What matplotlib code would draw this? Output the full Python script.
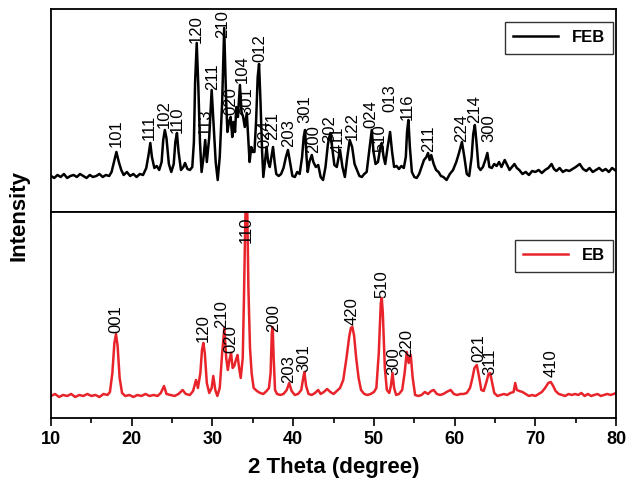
import numpy as np
import matplotlib
matplotlib.use("Agg")
import matplotlib.pyplot as plt
from matplotlib.ticker import MultipleLocator

plt.rcParams['font.family'] = ['Liberation Sans', 'DejaVu Sans']

# ---------- DATA (intensity in arbitrary units) ----------
feb_theta = [10.0, 10.4, 10.8, 11.2, 11.6, 12.0, 12.4, 12.8, 13.2, 13.6, 14.0, 14.4, 14.8, 15.2, 15.6, 16.0,
             16.4, 16.8, 17.2, 17.5, 17.8, 18.1, 18.4, 18.7, 19.0, 19.4, 19.8, 20.2, 20.6, 21.0, 21.4, 21.8,
             22.1, 22.3, 22.5, 22.8, 23.1, 23.4, 23.7, 23.9, 24.1, 24.3, 24.6, 24.9, 25.2, 25.4, 25.6, 25.8,
             26.1, 26.4, 26.6, 26.9, 27.2, 27.5, 27.7, 27.85, 28.05, 28.25, 28.45, 28.65, 28.9, 29.1, 29.3,
             29.6, 29.9, 30.15, 30.4, 30.65, 30.9, 31.2, 31.45, 31.7, 31.85, 32.05, 32.25, 32.45, 32.6, 32.8,
             32.95, 33.15, 33.4, 33.6, 33.8, 34.0, 34.25, 34.45, 34.6, 34.8, 35.0, 35.2, 35.4, 35.6, 35.77,
             35.95, 36.15, 36.3, 36.5, 36.7, 36.9, 37.1, 37.3, 37.5, 37.7, 37.9, 38.2, 38.5, 38.8, 39.1, 39.35,
             39.6, 39.9, 40.2, 40.5, 40.8, 41.1, 41.3, 41.47, 41.65, 41.8, 42.0, 42.3, 42.5, 42.8, 43.1, 43.4,
             43.7, 44.0, 44.3, 44.6, 44.9, 45.1, 45.4, 45.8, 46.1, 46.4, 46.7, 47.0, 47.3, 47.6, 47.9, 48.2,
             48.5, 48.8, 49.1, 49.4, 49.73, 49.95, 50.2, 50.5, 50.8, 50.97, 51.2, 51.4, 51.7, 52.0, 52.25,
             52.5, 52.8, 53.1, 53.4, 53.7, 53.95, 54.1, 54.27, 54.45, 54.7, 55.0, 55.3, 55.6, 55.9, 56.2, 56.5,
             56.7, 56.9, 57.1, 57.4, 57.7, 58.0, 58.3, 58.6, 59.0, 59.4, 59.8, 60.2, 60.5, 60.9, 61.2, 61.5,
             61.8, 62.1, 62.3, 62.5, 62.7, 62.95, 63.2, 63.5, 63.8, 64.05, 64.3, 64.6, 64.9, 65.2, 65.5, 65.8,
             66.2, 66.5, 66.8, 67.1, 67.4, 67.7, 68.0, 68.4, 68.8, 69.2, 69.6, 70.0, 70.4, 70.8, 71.2, 71.6,
             72.0, 72.3, 72.6, 73.0, 73.4, 73.8, 74.2, 74.6, 75.0, 75.5, 75.9, 76.3, 76.7, 77.1, 77.5, 77.9,
             78.3, 78.7, 79.1, 79.5, 80.0]
feb_int = [36, 34, 37, 35, 38, 34, 36, 37, 35, 38, 36, 34, 37, 35, 36, 38,
           35, 37, 36, 40, 50, 60, 50, 42, 37, 40, 36, 38, 35, 38, 37, 44,
           58, 69, 55, 44, 46, 42, 50, 72, 82, 74, 48, 40, 48, 70, 79, 60,
           42, 45, 49, 43, 42, 45, 70, 130, 169, 125, 70, 40, 55, 72, 50,
           75, 122, 85, 50, 32, 55, 110, 184, 110, 80, 90, 95, 75, 90, 80,
           105, 95, 127, 100, 95, 85, 99, 70, 50, 65, 60, 60, 90, 135, 148,
           110, 60, 35, 50, 65, 50, 45, 55, 65, 50, 38, 36, 38, 44, 55, 62,
           50, 36, 35, 40, 38, 55, 75, 82, 55, 40, 50, 57, 50, 45, 47, 35,
           32, 45, 68, 79, 60, 47, 45, 62, 45, 35, 55, 72, 65, 48, 42, 36,
           35, 38, 40, 60, 82, 60, 48, 50, 65, 69, 55, 48, 65, 80, 60,
           45, 46, 43, 46, 44, 55, 80, 92, 65, 40, 35, 34, 38, 45, 52, 55,
           59, 52, 57, 48, 42, 40, 36, 35, 32, 38, 42, 50, 58, 70, 55, 38,
           36, 55, 78, 87, 70, 45, 42, 45, 52, 59, 45, 44, 48, 46, 50, 45,
           52, 47, 42, 45, 48, 44, 42, 38, 40, 37, 41, 40, 42, 39, 42, 44,
           48, 43, 41, 44, 40, 42, 41, 43, 45, 48, 43, 41, 44, 40, 42, 44,
           41, 43, 40, 44, 41]

eb_theta = [10.0, 10.5, 11.0, 11.5, 12.0, 12.5, 13.0, 13.5, 14.0, 14.5, 15.0, 15.5, 16.0, 16.5, 17.0, 17.3,
            17.6, 17.85, 18.05, 18.25, 18.5, 18.8, 19.2, 19.7, 20.2, 20.7, 21.2, 21.7, 22.2, 22.7, 23.2, 23.6,
            24.0, 24.3, 24.8, 25.3, 25.8, 26.3, 26.7, 27.2, 27.6, 27.96, 28.2, 28.5, 28.7, 28.87, 29.05, 29.3,
            29.6, 29.9, 30.1, 30.35, 30.6, 30.9, 31.2, 31.47, 31.7, 31.9, 32.1, 32.3, 32.5, 32.7, 32.9, 33.1,
            33.3, 33.5, 33.75, 33.9, 34.05, 34.16, 34.3, 34.45, 34.65, 34.85, 35.1, 35.5, 35.9, 36.3, 36.7,
            37.0, 37.2, 37.35, 37.46, 37.58, 37.75, 38.0, 38.4, 38.8, 39.2, 39.5, 39.8, 40.2, 40.6, 41.0, 41.2,
            41.38, 41.6, 41.9, 42.3, 42.7, 43.1, 43.4, 43.8, 44.2, 44.6, 45.0, 45.4, 45.8, 46.2, 46.6, 46.95,
            47.15, 47.33, 47.55, 47.8, 48.1, 48.4, 48.8, 49.2, 49.6, 50.0, 50.3, 50.6, 50.85, 50.97, 51.1,
            51.35, 51.6, 51.9, 52.1, 52.3, 52.5, 52.75, 53.1, 53.5, 53.8, 54.07, 54.3, 54.56, 54.8, 55.1, 55.5,
            55.9, 56.3, 56.7, 57.1, 57.4, 57.8, 58.2, 58.6, 59.0, 59.5, 59.9, 60.3, 60.7, 61.1, 61.5, 61.9,
            62.2, 62.45, 62.74, 63.0, 63.3, 63.6, 63.9, 64.2, 64.4, 64.65, 64.9, 65.3, 65.7, 66.1, 66.5, 66.9,
            67.3, 67.5, 67.7, 68.0, 68.4, 68.8, 69.2, 69.6, 70.0, 70.4, 70.8, 71.2, 71.6, 71.9, 72.2, 72.5,
            72.9, 73.3, 73.7, 74.1, 74.5, 74.9, 75.3, 75.7, 76.1, 76.5, 76.9, 77.3, 77.7, 78.1, 78.5, 78.9,
            79.3, 79.7, 80.0]
eb_int = [22, 24, 21, 23, 22, 24, 21, 23, 22, 24, 22, 23, 21, 24, 23, 26,
          45, 75, 84, 72, 40, 25, 22, 23, 21, 23, 22, 24, 22, 23, 22, 25,
          32, 24, 23, 22, 24, 28, 24, 23, 27, 38, 30, 45, 68, 75, 65, 35,
          25, 30, 42, 28, 22, 30, 65, 90, 60, 48, 58, 65, 50, 52, 58, 63,
          50, 40, 60, 120, 190, 230, 215, 130, 70, 45, 30, 27, 25, 24, 27,
          30, 45, 85, 91, 60, 28, 24, 23, 24, 28, 35, 27, 23, 24, 28, 38,
          46, 32, 24, 23, 25, 28, 24, 26, 29, 26, 24, 27, 30, 38, 60, 82,
          90, 91, 82, 60, 40, 28, 24, 23, 24, 26, 30, 65, 115, 120, 105,
          50, 28, 25, 32, 45, 30, 23, 24, 28, 45, 66, 55, 63, 40, 23, 22,
          23, 26, 24, 27, 28, 24, 23, 24, 26, 28, 24, 23, 24, 24, 25, 30,
          40, 50, 53, 42, 28, 27, 35, 44, 45, 35, 25, 22, 23, 24, 23, 25,
          26, 35, 28, 27, 26, 24, 22, 23, 22, 24, 26, 30, 35, 36, 32, 27,
          24, 23, 22, 24, 23, 24, 23, 25, 22, 24, 22, 23, 24, 22, 23, 24,
          23, 24, 25]

# peak labels (Miller indices), position and height of label base
feb_labels = ["101", "111", "102", "110", "120", "113", "211", "210", "020", "104", "301", "012", "024", "221",
              "203", "301", "200", "302", "411", "122", "024", "510", "013", "116", "211", "224", "214", "300"]
feb_lab_x = [18.05, 22.18, 24.0, 25.65, 27.96, 29.08, 30.07, 31.31, 32.26, 33.63, 34.25, 35.89, 36.51, 37.47,
             39.4, 41.47, 42.5, 44.48, 45.56, 47.26, 49.61, 50.76, 52.0, 54.07, 56.75, 60.88, 62.45, 64.18]
feb_lab_y = [65, 72, 84, 79, 169, 77, 122, 174, 97, 129, 97, 150, 64, 72,
             65, 89, 59, 69, 59, 72, 84, 60, 100, 92, 60, 70, 89, 70]

eb_labels = ["001", "120", "210", "020", "110", "200", "203", "301", "420", "510", "300", "220", "021", "311", "410"]
eb_lab_x = [18.05, 28.87, 31.15, 32.3, 34.16, 37.54, 39.4, 41.26, 47.26, 50.97, 52.41, 54.07, 62.94, 64.39, 71.91]
eb_lab_y = [85, 76, 90, 65, 175, 86, 35, 46, 93, 120, 43, 61, 56, 43, 41]

# ---------- PLOT ----------
fig = plt.figure(figsize=(6.4, 4.96), dpi=100)
ax_top = fig.add_axes([0.0797, 0.5726, 0.883, 0.4093])
ax_bot = fig.add_axes([0.0797, 0.1573, 0.883, 0.4153])

ax_top.plot(feb_theta, feb_int, color='black', lw=1.8, label='FEB')
ax_bot.plot(eb_theta, eb_int, color='#e8242a', lw=1.8, label='EB')

ax_top.set_ylim(0, 203)
ax_bot.set_ylim(0, 206)

for t, x, y in zip(feb_labels, feb_lab_x, feb_lab_y):
    ax_top.text(x, y, t, rotation=90, ha='center', va='bottom', fontsize=12, clip_on=False)
for t, x, y in zip(eb_labels, eb_lab_x, eb_lab_y):
    ax_bot.text(x, y, t, rotation=90, ha='center', va='bottom', fontsize=12, clip_on=False)

# legend anchors (axes fraction), tucked into the upper right corner
leg_anchor = {ax_top: (1 - 3 / 565, 1 - 13 / 203), ax_bot: (1 - 3 / 565, 1 - 28 / 206)}

for ax in (ax_top, ax_bot):
    ax.set_xlim(10, 80)
    ax.set_yticks([])
    ax.xaxis.set_major_locator(MultipleLocator(10))
    ax.xaxis.set_minor_locator(MultipleLocator(5))
    ax.tick_params(axis='x', which='major', direction='out', length=6, width=1.2)
    ax.tick_params(axis='x', which='minor', direction='out', length=3.5, width=1.2)
    for s in ax.spines.values():
        s.set_linewidth(1.3)
    leg = ax.legend(loc='upper right', bbox_to_anchor=leg_anchor[ax], fontsize=12, frameon=True,
                    fancybox=False, handlelength=2.7, borderaxespad=0, borderpad=0.5)
    leg.get_frame().set_edgecolor('black')
    leg.get_frame().set_linewidth(1.0)
    for txt in leg.get_texts():
        txt.set_fontweight('bold')

ax_top.tick_params(axis='x', labelbottom=False)
ax_bot.set_xticks(np.arange(10, 81, 10))
for lab in ax_bot.get_xticklabels():
    lab.set_fontweight('bold')
    lab.set_fontsize(13)

ax_bot.set_xlabel("2 Theta (degree)", fontsize=16, fontweight='bold', labelpad=6)
fig.text(0.03, 0.565, "Intensity", rotation=90, ha='center', va='center', fontsize=16, fontweight='bold')

plt.savefig("out.png", dpi=100)
